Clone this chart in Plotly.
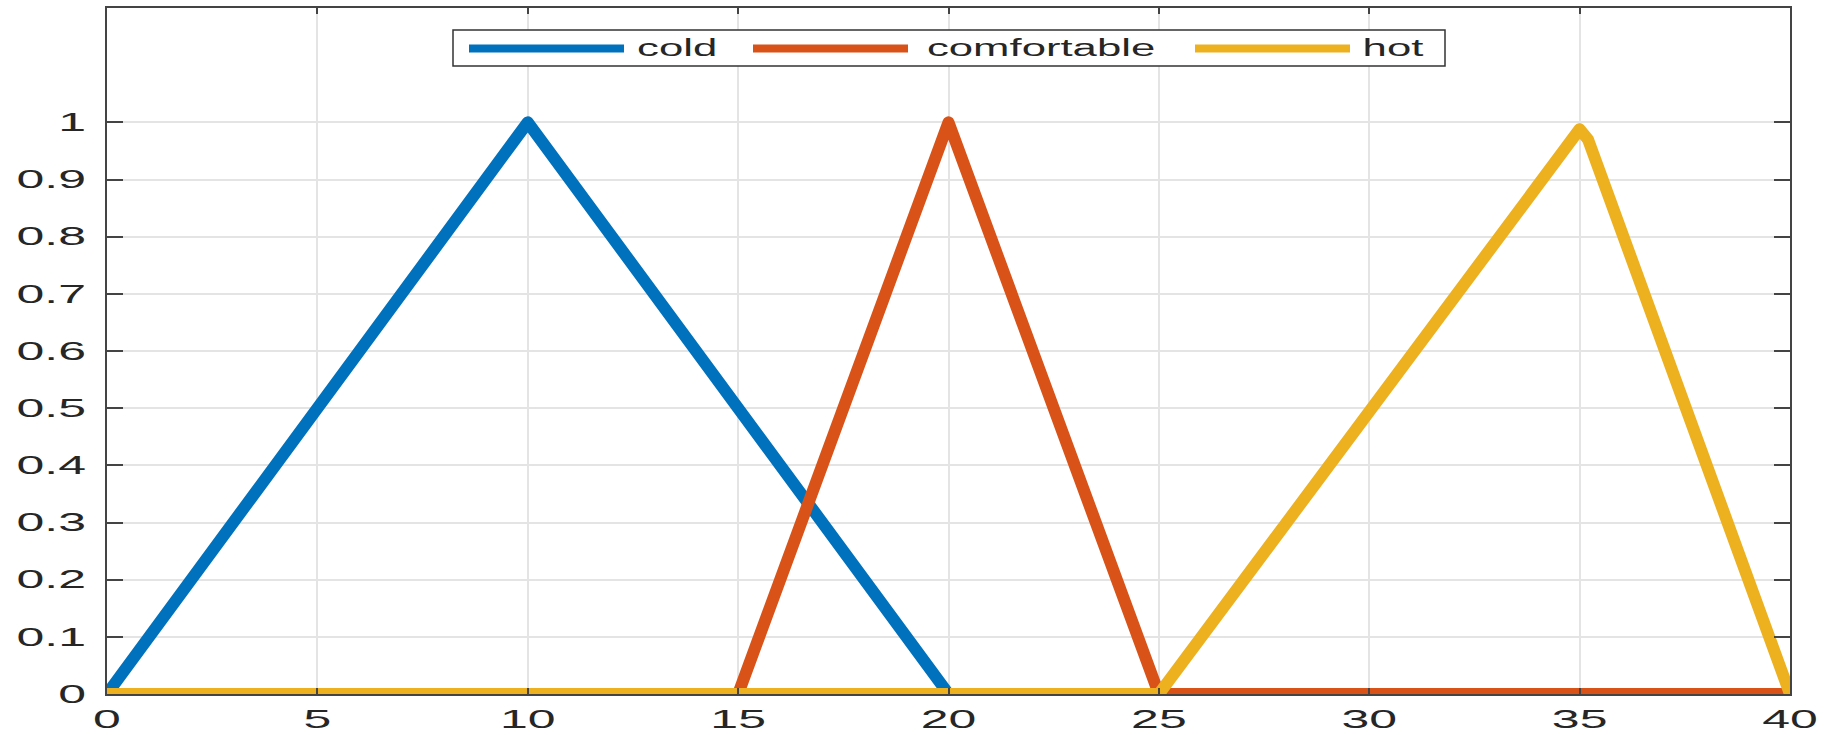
import plotly.graph_objects as go

# Membership functions of the temperature variable
cold_x = [0, 10, 20, 40]
cold_y = [0, 1, 0, 0]

comfortable_x = [0, 15, 20, 25, 40]
comfortable_y = [0, 0, 1, 0, 0]

hot_x = [0, 25, 35, 35.2, 40]
hot_y = [0, 0, 0.988, 0.97, 0]

names = ["cold", "comfortable", "hot"]
colors = ["#0072BD", "#D95319", "#EDB120"]

x_ticks = [0, 5, 10, 15, 20, 25, 30, 35, 40]
y_ticks = [0, 0.1, 0.2, 0.3, 0.4, 0.5, 0.6, 0.7, 0.8, 0.9, 1]
y_tick_text = ["0", "0.1", "0.2", "0.3", "0.4", "0.5", "0.6", "0.7", "0.8", "0.9", "1"]

FONT = "Liberation Sans, Arial, Helvetica, sans-serif"
AXIS_COLOR = "#444444"

# plot-area geometry in pixels (figure is 1824 x 735)
W, H = 1824, 735
L, R, T, B = 107, 34, 8, 41
PW, PH = W - L - R, H - T - B


def paper_x(px):
    return (px - L) / PW


def paper_y(py):
    return (H - B - py) / PH


fig = go.Figure()
for name, xs, ys, color in zip(names, [cold_x, comfortable_x, hot_x],
                                [cold_y, comfortable_y, hot_y], colors):
    fig.add_trace(go.Scatter(
        x=xs, y=ys, name=name, mode="lines",
        line=dict(color=color, width=12),
        showlegend=False,
    ))

axis_common = dict(
    showline=True, linecolor=AXIS_COLOR, linewidth=2, mirror="ticks",
    showgrid=True, gridcolor="#e4e4e4", gridwidth=1.5,
    ticks="inside", tickcolor=AXIS_COLOR, tickwidth=2,
    zeroline=False, automargin=False,
    tickfont=dict(family=FONT, size=25, color="#262626"),
)

fig.update_xaxes(range=[0, 40], tickvals=x_ticks, ticklen=6,
                 ticklabelstandoff=2, **axis_common)
fig.update_yaxes(range=[0, 1.2], tickvals=y_ticks, ticktext=y_tick_text,
                 ticklen=16, ticklabelstandoff=14, **axis_common)

# boxed horizontal legend inside the top of the axes
box = dict(x0=453, x1=1445, y0=30, y1=66)
fig.add_shape(type="rect", xref="paper", yref="paper",
              x0=paper_x(box["x0"]), x1=paper_x(box["x1"]),
              y0=paper_y(box["y1"]), y1=paper_y(box["y0"]),
              line=dict(color="#333333", width=1.5), fillcolor="white",
              layer="above")

entry_lines = [(469, 624), (753, 908), (1195, 1350)]
entry_text_centers = [677, 1041, 1393]
entry_mid_y = 48.5
for name, color, (a, b), tc in zip(names, colors, entry_lines, entry_text_centers):
    fig.add_shape(type="line", xref="paper", yref="paper",
                  x0=paper_x(a), x1=paper_x(b),
                  y0=paper_y(entry_mid_y), y1=paper_y(entry_mid_y),
                  line=dict(color=color, width=8), layer="above")
    fig.add_annotation(text=name, xref="paper", yref="paper",
                       x=paper_x(tc), y=paper_y(entry_mid_y),
                       xanchor="center", yanchor="middle", showarrow=False,
                       font=dict(family=FONT, size=23, color="#262626"))

fig.update_layout(
    width=W, height=H,
    margin=dict(l=L, r=R, t=T, b=B, autoexpand=False),
    paper_bgcolor="white", plot_bgcolor="white",
    showlegend=False,
)

# widen the glyphs of tick labels and legend labels horizontally,
# and give the curves rounded joins
post_js = """
var gd = document.getElementById('{plot_id}');
function widen(sel, k) {
  gd.querySelectorAll(sel).forEach(function (t) {
    var w = t.getComputedTextLength();
    if (w > 0) {
      t.setAttribute('textLength', (w * k).toFixed(1));
      t.setAttribute('lengthAdjust', 'spacingAndGlyphs');
    }
  });
}
widen('.xtick text', 2.0);
widen('.ytick text', 2.0);
widen('.annotation-text', 1.9);
gd.querySelectorAll('.scatterlayer path.js-line').forEach(function (p) {
  p.style.strokeLinejoin = 'round';
  p.style.strokeLinecap = 'round';
});
"""

fig.write_html("out.html", post_script=post_js)
